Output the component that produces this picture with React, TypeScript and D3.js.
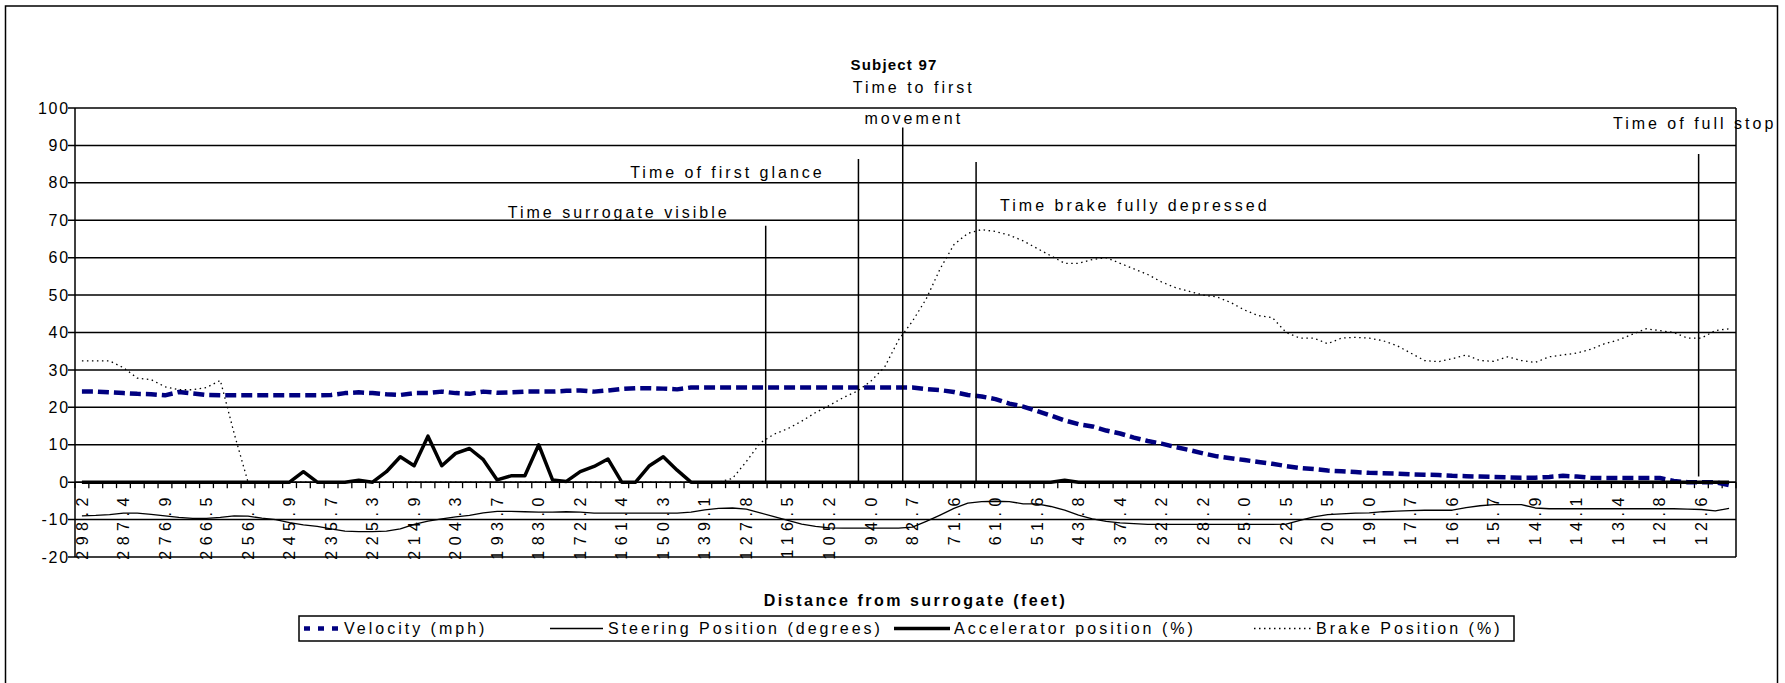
import React from "react";
import * as d3 from "d3";

const width = 1785;
const height = 683;

// distance labels, shown under every third sample
const distanceLabels = [
  "298.2", "287.4", "276.9", "266.5", "256.2", "245.9", "235.7", "225.3", "214.9", "204.3",
  "193.7", "183.0", "172.2", "161.4", "150.3", "139.1", "127.8", "116.5", "105.2", "94.0",
  "82.7", "71.6", "61.0", "51.6", "43.8", "37.4", "32.2", "28.2", "25.0", "22.5",
  "20.5", "19.0", "17.7", "16.6", "15.7", "14.9", "14.1", "13.4", "12.8", "12.6",
];
const labelStep = 3;

const velocity = [
  24.2, 24.2, 24.0, 23.8, 23.6, 23.5, 23.2, 24.1, 23.7, 23.3,
  23.2, 23.2, 23.2, 23.2, 23.2, 23.2, 23.2, 23.2, 23.3, 23.8,
  24.0, 23.8, 23.5, 23.3, 23.8, 23.8, 24.2, 23.8, 23.6, 24.2,
  23.9, 24.0, 24.2, 24.2, 24.2, 24.4, 24.5, 24.2, 24.5, 24.9,
  25.1, 25.1, 25.0, 24.8, 25.3, 25.3, 25.3, 25.3, 25.3, 25.3,
  25.3, 25.3, 25.3, 25.3, 25.3, 25.3, 25.3, 25.3, 25.3, 25.3,
  25.3, 24.9, 24.6, 24.1, 23.3, 22.9, 22.2, 21.0, 20.2, 19.0,
  17.8, 16.5, 15.5, 14.9, 13.8, 13.0, 11.9, 11.0, 10.3, 9.4,
  8.6, 7.7, 6.9, 6.4, 5.9, 5.4, 4.9, 4.3, 3.8, 3.5,
  3.1, 2.9, 2.7, 2.5, 2.4, 2.3, 2.1, 2.0, 1.9, 1.7,
  1.6, 1.5, 1.4, 1.3, 1.2, 1.2, 1.4, 1.7, 1.5, 1.2,
  1.1, 1.1, 1.1, 1.1, 1.1, 0.3, 0, 0, 0, -0.8,
];

const steering = [
  -9.0, -8.9, -8.7, -8.3, -8.3, -8.6, -9.0, -9.4, -9.7, -9.7,
  -9.4, -9.0, -9.1, -9.6, -10.0, -10.8, -11.4, -11.8, -12.5, -13.1,
  -13.2, -13.2, -13.1, -12.5, -11.3, -10.4, -9.8, -9.3, -8.9, -8.2,
  -7.8, -7.8, -7.9, -8.0, -8.0, -7.9, -8.0, -8.3, -8.3, -8.3,
  -8.3, -8.3, -8.3, -8.3, -8.0, -7.4, -7.0, -6.9, -7.2, -8.2,
  -9.2, -10.2, -11.2, -11.8, -12.2, -12.3, -12.3, -12.3, -12.3, -12.3,
  -12.0, -10.5, -8.8, -7.0, -5.6, -5.2, -5.1, -5.2, -5.8, -5.8,
  -6.5, -7.5, -8.8, -9.8, -10.5, -10.9, -11.1, -11.3, -11.3, -11.3,
  -11.3, -11.3, -11.3, -11.3, -11.3, -11.3, -11.3, -11.2, -10.2, -9.3,
  -8.7, -8.5, -8.3, -8.2, -7.9, -7.75, -7.6, -7.5, -7.5, -7.5,
  -6.8, -6.3, -6.0, -6.0, -6.0, -6.9, -7.1, -7.1, -7.1, -7.1,
  -7.1, -7.1, -7.1, -7.1, -7.1, -7.1, -7.2, -7.3, -7.7, -7.0,
];

const accelerator = [
  0, 0, 0, 0, 0, 0, 0, 0, 0, 0,
  0, 0, 0, 0, 0, 0, 2.8, 0, 0, 0,
  0.5, 0, 2.8, 6.8, 4.4, 12.3, 4.4, 7.7, 9.0, 6.0,
  0.6, 1.7, 1.7, 10.0, 0.6, 0.2, 2.8, 4.2, 6.2, 0,
  0, 4.4, 6.8, 3.2, 0, 0, 0, 0, 0, 0,
  0, 0, 0, 0, 0, 0, 0, 0, 0, 0,
  0, 0, 0, 0, 0, 0, 0, 0, 0, 0,
  0, 0.5, 0, 0, 0, 0, 0, 0, 0, 0,
  0, 0, 0, 0, 0, 0, 0, 0, 0, 0,
  0, 0, 0, 0, 0, 0, 0, 0, 0, 0,
  0, 0, 0, 0, 0, 0, 0, 0, 0, 0,
  0, 0, 0, 0, 0, 0, 0, 0, 0, 0,
];

const brake = [
  32.4, 32.4, 32.4, 30.6, 27.8, 27.4, 25.5, 24.7, 24.7, 25.3,
  27.2, 13.0, 0, 0, 0, 0, 0, 0, 0, 0,
  0, 0, 0, 0, 0, 0, 0, 0, 0, 0,
  0, 0, 0, 0, 0, 0, 0, 0, 0, 0,
  0, 0, 0, 0, 0, 0, 0, 1.0, 5.5, 10.5,
  12.8, 14.3, 16.3, 18.6, 20.5, 22.6, 24.3, 27.0, 30.8, 38.0,
  43, 49, 57, 63.5, 66.5, 67.5, 67, 66, 64.5, 62.5,
  60.5, 58.5, 58.5, 59.5, 60, 58.5, 57, 55.5, 53.5, 52,
  51, 50, 49.5, 48, 46, 44.5, 44, 40, 38.5, 38.5,
  37, 38.5, 38.7, 38.5, 37.8, 36.5, 34.5, 32.5, 32.2, 33,
  34, 32.5, 32.3, 33.5, 32.5, 32, 33.5, 34, 34.5, 35.5,
  37, 38, 39.5, 41, 40.5, 40, 38.5, 38.5, 40.5, 41,
];

// event markers: sample position and the value range of the vertical line
const events = [
  { lines: ["Time surrogate visible"], at: 49.4, top: 68.5, bottom: 0 },
  { lines: ["Time of first glance"], at: 56.1, top: 86.4, bottom: 0 },
  { lines: ["Time to first", "movement"], at: 59.3, top: 94.8, bottom: 0 },
  { lines: ["Time brake fully depressed"], at: 64.6, top: 85.6, bottom: 0 },
  { lines: ["Time of full stop"], at: 116.8, top: 87.7, bottom: 1.5 },
];

const yTicks = d3.range(-20, 101, 10);

// label placement relative to the top of each marker line (px)
const eventLabelLayout = [
  { dx: -147, dy: [-8], anchor: "middle" },
  { dx: -131, dy: [19], anchor: "middle" },
  { dx: 11, dy: [-34, -3], anchor: "middle" },
  { dx: 24, dy: [49], anchor: "start" },
  { dx: -4, dy: [-25], anchor: "middle" },
];

const font = "'Liberation Sans', Arial, sans-serif";

const seriesStyle = {
  velocity: { stroke: "#000080", width: 4.5, dash: "11 5" },
  steering: { stroke: "#000", width: 1.3, dash: null },
  accelerator: { stroke: "#000", width: 3.5, dash: null },
  brake: { stroke: "#000", width: 1.3, dash: "1.5 3.5" },
};

const legendItems = [
  { name: "Velocity (mph)", key: "velocity", x0: 304, x1: 338, tx: 344, dash: "6 8" },
  { name: "Steering Position (degrees)", key: "steering", x0: 550, x1: 603, tx: 608 },
  { name: "Accelerator position (%)", key: "accelerator", x0: 894, x1: 950, tx: 954 },
  { name: "Brake Position (%)", key: "brake", x0: 1254, x1: 1312, tx: 1316 },
];

const plot = { left: 75, right: 1736, top: 108, bottom: 557 };
const legendBox = { x: 299, y: 616, w: 1215, h: 25 };

export default function App() {
  const n = velocity.length;
  const x = d3.scaleLinear().domain([-0.5, n - 0.5]).range([plot.left, plot.right]);
  const y = d3.scaleLinear().domain([-20, 100]).range([plot.bottom, plot.top]);
  const line = d3
    .line<number>()
    .x((_, i) => x(i))
    .y((d) => y(d));

  const series = [
    { key: "velocity", data: velocity },
    { key: "steering", data: steering },
    { key: "accelerator", data: accelerator },
    { key: "brake", data: brake },
  ];

  const y0 = y(0);
  const legendY = legendBox.y + legendBox.h / 2;

  return (
    <svg
      width={width}
      height={height}
      style={{ position: "absolute", left: 0, top: 0, background: "#fff" }}
      fontFamily={font}
    >
      <rect x={0} y={0} width={width} height={height} fill="#fff" />
      {/* chart frame, bottom edge lies outside the picture */}
      <rect x={5.5} y={6} width={1772} height={700} fill="none" stroke="#000" strokeWidth={1.5} />

      <text x={894} y={70} textAnchor="middle" fontSize={15} fontWeight="bold" letterSpacing={1.2}>
        Subject 97
      </text>

      {/* gridlines and y axis */}
      {yTicks.map((t) => (
        <g key={t}>
          <line x1={plot.left - 7} x2={plot.right} y1={y(t)} y2={y(t)} stroke="#000" strokeWidth={1.5} />
          <text x={70} y={y(t)} dy="0.35em" textAnchor="end" fontSize={16} letterSpacing={1.8}>
            {t}
          </text>
        </g>
      ))}
      <line x1={plot.left} x2={plot.left} y1={plot.top} y2={plot.bottom} stroke="#000" strokeWidth={1.5} />
      <line x1={plot.right} x2={plot.right} y1={plot.top} y2={plot.bottom} stroke="#000" strokeWidth={1.5} />

      {/* category axis crosses at 0 */}
      {d3.range(n + 1).map((k) => (
        <line key={k} x1={x(k - 0.5)} x2={x(k - 0.5)} y1={y0} y2={y0 + 6} stroke="#000" strokeWidth={1.3} />
      ))}
      {distanceLabels.map((lab, k) => (
        <text
          key={lab + k}
          transform={`translate(${x(k * labelStep)},${y0 + 10}) rotate(-90)`}
          dy="0.35em"
          textAnchor="end"
          fontSize={16}
          letterSpacing={5.5}
        >
          {lab}
        </text>
      ))}

      {series.map((s) => {
        const st = seriesStyle[s.key];
        return (
          <path
            key={s.key}
            d={line(s.data) || ""}
            fill="none"
            stroke={st.stroke}
            strokeWidth={st.width}
            strokeDasharray={st.dash || undefined}
            strokeLinejoin="round"
          />
        );
      })}

      <line x1={plot.left} x2={plot.right} y1={y0} y2={y0} stroke="#000" strokeWidth={1.5} />

      {/* event markers */}
      {events.map((e, i) => {
        const lx = x(e.at);
        const ty = y(e.top);
        const lay = eventLabelLayout[i];
        return (
          <g key={i}>
            <line x1={lx} x2={lx} y1={ty} y2={y(e.bottom)} stroke="#000" strokeWidth={1.5} />
            {e.lines.map((t, j) => (
              <text
                key={j}
                x={lx + lay.dx}
                y={ty + lay.dy[j]}
                textAnchor={lay.anchor}
                fontSize={16}
                letterSpacing={3}
              >
                {t}
              </text>
            ))}
          </g>
        );
      })}

      <text x={(plot.left + plot.right) / 2 + 10} y={606} textAnchor="middle" fontSize={16} fontWeight="bold" letterSpacing={2.5}>
        Distance from surrogate (feet)
      </text>

      {/* legend */}
      <rect x={legendBox.x} y={legendBox.y} width={legendBox.w} height={legendBox.h} fill="#fff" stroke="#000" strokeWidth={1.5} />
      {legendItems.map((it) => {
        const st = seriesStyle[it.key];
        return (
          <g key={it.key}>
            <line
              x1={it.x0}
              x2={it.x1}
              y1={legendY}
              y2={legendY}
              stroke={st.stroke}
              strokeWidth={st.width}
              strokeDasharray={it.dash || st.dash || undefined}
            />
            <text x={it.tx} y={legendY} dy="0.35em" fontSize={16} letterSpacing={3}>
              {it.name}
            </text>
          </g>
        );
      })}
    </svg>
  );
}
